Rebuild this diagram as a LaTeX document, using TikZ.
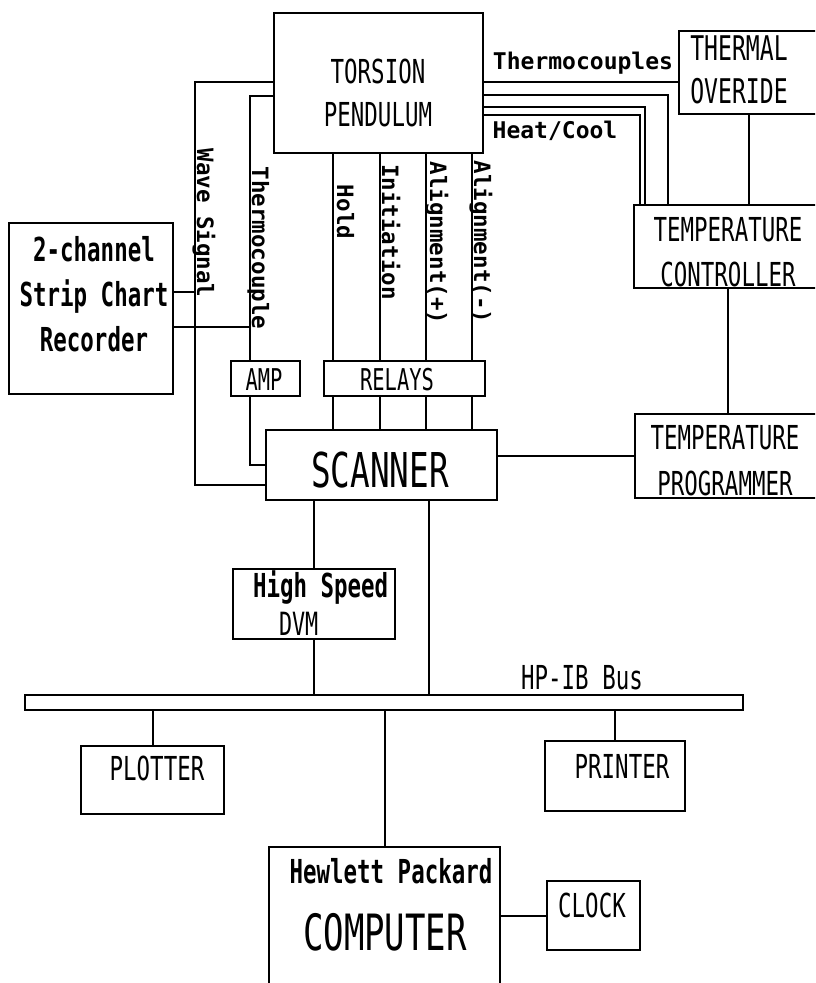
\documentclass[tikz,border=0pt]{standalone}
\usepackage{fontspec}
\usepackage{tikz}
\newfontfamily\boxf{DejaVu Sans Mono}[FakeStretch=0.68]
\newfontfamily\lblf{DejaVu Sans Mono}
\tikzset{every picture/.style={line width=2pt}}
\tikzset{
  blk/.style={draw, line width=2.4pt, inner sep=0pt, anchor=north west},
  wire/.style={line width=2pt},
  txt/.style={inner sep=0pt, align=center},
  vlbl/.style={font=\lblf\bfseries\fontsize{22.5}{27}\selectfont, rotate=-90, anchor=base, inner sep=0pt},
  hlbl/.style={font=\lblf\bfseries\fontsize{23}{27}\selectfont, anchor=base, inner sep=0pt}
}

\begin{document}
\begin{tikzpicture}[x=1pt,y=1pt,yscale=-1,xscale=1]
    \path[use as bounding box] (0,0) rectangle (815,983);
    \clip (0,0) rectangle (815,983);

    \node[blk, minimum width=209pt, minimum height=140pt] (tp) at (273,12) {};
    \node[blk, minimum width=140pt, minimum height=83pt] (to) at (678,30) {};
    \node[blk, minimum width=188pt, minimum height=83pt] (tc) at (633,204) {};
    \node[blk, minimum width=187pt, minimum height=84pt] (tpg) at (634,413) {};
    \node[blk, minimum width=164pt, minimum height=171pt] (rec) at (8,222) {};
    \node[blk, minimum width=69pt, minimum height=35pt] (amp) at (230,360) {};
    \node[blk, minimum width=161pt, minimum height=35pt] (rel) at (323,360) {};
    \node[blk, minimum width=231pt, minimum height=70pt] (scn) at (265,429) {};
    \node[blk, minimum width=162pt, minimum height=70pt] (dvm) at (232,568) {};
    \node[blk, minimum width=718pt, minimum height=15pt] (bus) at (24,694) {};
    \node[blk, minimum width=143pt, minimum height=68pt] (plt) at (80,745) {};
    \node[blk, minimum width=140pt, minimum height=70pt] (prn) at (544,740) {};
    \node[blk, minimum width=231pt, minimum height=160pt] (cmp) at (268,846) {};
    \node[blk, minimum width=93pt, minimum height=69pt] (clk) at (546,880) {};

    \node[txt, anchor=north, font=\boxf\fontsize{33}{43}\selectfont] (tpT) at (378,58) {TORSION\\PENDULUM};
    \node[txt, anchor=north, font=\boxf\fontsize{34}{43}\selectfont] (toT) at (739,35) {THERMAL\\OVERIDE};
    \node[txt, anchor=north, font=\boxf\fontsize{33}{45}\selectfont] (tcT) at (728,216) {TEMPERATURE\\CONTROLLER};
    \node[txt, anchor=north, font=\boxf\fontsize{33}{46}\selectfont] (tpgT) at (725,424) {TEMPERATURE\\PROGRAMMER};
    \node[txt, anchor=north, font=\boxf\bfseries\fontsize{33}{45}\selectfont] (recT) at (94,235) {2-channel\\Strip Chart\\Recorder};
    \node[txt, anchor=base, font=\boxf\fontsize{30}{36}\selectfont] (ampT) at (264,390) {AMP};
    \node[txt, anchor=base, font=\boxf\fontsize{30}{36}\selectfont] (relT) at (397,390) {RELAYS};
    \node[txt, anchor=base, font=\boxf\fontsize{48}{56}\selectfont] (scnT) at (380,487) {SCANNER};
    \node[txt, anchor=base west, font=\boxf\bfseries\fontsize{33}{40}\selectfont] (dvmT) at (252,597) {High Speed};
    \node[txt, anchor=base west, font=\boxf\fontsize{32}{36}\selectfont] (dvmU) at (278,635) {DVM};
    \node[txt, anchor=base, font=\boxf\fontsize{33}{40}\selectfont] (busT) at (582,689) {HP-IB Bus};
    \node[txt, anchor=base, font=\boxf\fontsize{33}{40}\selectfont] (pltT) at (157,780) {PLOTTER};
    \node[txt, anchor=base, font=\boxf\fontsize{33}{40}\selectfont] (prnT) at (622,778) {PRINTER};
    \node[txt, anchor=base, font=\boxf\fontsize{33}{40}\selectfont] (clkT) at (592,917) {CLOCK};
    \node[txt, anchor=base, font=\boxf\bfseries\fontsize{33}{40}\selectfont] (cmpT) at (391,883) {Hewlett Packard};
    \node[txt, anchor=base, font=\boxf\fontsize{50}{60}\selectfont] (cmpU) at (385,950) {COMPUTER};

    \node[hlbl] (thcT) at (583,69) {Thermocouples};
    \node[hlbl] (heatT) at (555,138) {Heat/Cool};
    \node[vlbl] (waveT) at (197,223) {Wave Signal};
    \node[vlbl] (tcplT) at (252,248) {Thermocouple};
    \node[vlbl] (holdT) at (337,212) {Hold};
    \node[vlbl] (initT) at (382,232) {Initiation};
    \node[vlbl] (alpT) at (430,243) {Alignment(+)};
    \node[vlbl] (almT) at (474,242) {Alignment(-)};

    \coordinate (ws) at (195,82);
    \coordinate (wsB) at (195,485);
    \coordinate (tcp) at (250,96);
    \coordinate (ampB) at (250,465);
    \coordinate (rA) at (195,292);
    \coordinate (rB) at (250,327);
    \draw[wire] (tp.west |- ws) -- (ws) -- (wsB) -- (scn.west |- wsB);
    \draw[wire] (tp.west |- tcp) -- (tcp) -- (amp.north -| tcp);
    \draw[wire] (amp.south -| ampB) -- (ampB) -- (scn.west |- ampB);
    \draw[wire] (rec.east |- rA) -- (rA);
    \draw[wire] (rec.east |- rB) -- (rB);

    \foreach \xx in {333,380,426,472} {
        \draw[wire] (tp.south -| \xx,0) -- (rel.north -| \xx,0);
        \draw[wire] (rel.south -| \xx,0) -- (scn.north -| \xx,0);
    }

    \coordinate (thc) at (600,82);
    \coordinate (hc1) at (668,95);
    \coordinate (hc2) at (645,107);
    \coordinate (hc3) at (640,115);
    \draw[wire] (tp.east |- thc) -- (to.west |- thc);
    \foreach \c in {hc1,hc2,hc3}
        \draw[wire] (tp.east |- \c) -- (\c) -- (tc.north -| \c);
    \draw[wire] (to.south) -- (tc.north -| to.south);
    \draw[wire] (tc.south) -- (tpg.north -| tc.south);
    \draw[wire] (scn.east |- tpg.west) -- (tpg.west);

    \coordinate (sb) at (429,600);
    \draw[wire] (scn.south -| dvm.north) -- (dvm.north);
    \draw[wire] (dvm.south) -- (bus.north -| dvm.south);
    \draw[wire] (scn.south -| sb) -- (bus.north -| sb);
    \draw[wire] (bus.south -| plt.north) -- (plt.north);
    \draw[wire] (bus.south -| cmp.north) -- (cmp.north);
    \draw[wire] (bus.south -| prn.north) -- (prn.north);
    \draw[wire] (cmp.east |- clk.west) -- (clk.west);
\end{tikzpicture}
\end{document}
